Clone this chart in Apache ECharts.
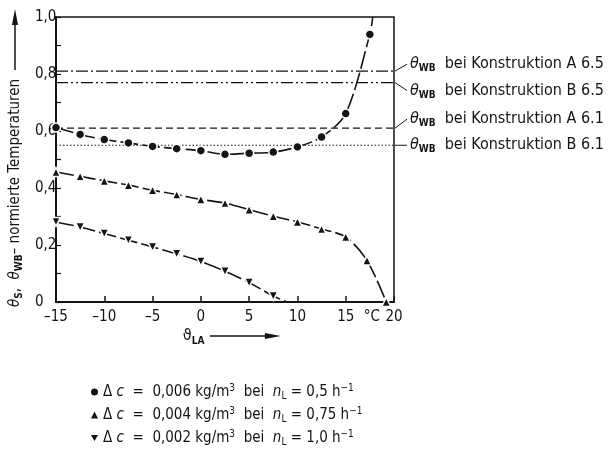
<!DOCTYPE html>
<html>
<head>
<meta charset="utf-8">
<script src="https://cdn.jsdelivr.net/npm/echarts@6/dist/echarts.min.js"></script>
<style>
html,body{margin:0;padding:0;background:#fff;}
#c{width:608px;height:452px;}
</style>
</head>
<body>
<div id="c"></div>
<script>
// ---- data ----
const xTicks = [-15, -10, -5, 0, 5, 10, 15, 20];
const yTicks = [0, 0.2, 0.4, 0.6, 0.8, 1.0];

const circleX = [-15, -12.5, -10, -7.5, -5, -2.5, 0, 2.5, 5, 7.5, 10, 12.5, 15, 17.5];
const circleY = [0.612, 0.588, 0.570, 0.558, 0.546, 0.538, 0.531, 0.518, 0.522, 0.526, 0.544, 0.579, 0.661, 0.939];
const circleTail = [17.8, 1.0];

const upX = [-15, -12.5, -10, -7.5, -5, -2.5, 0, 2.5, 5, 7.5, 10, 12.5, 15, 17.2, 19.2];
const upY = [0.456, 0.441, 0.425, 0.410, 0.392, 0.377, 0.360, 0.347, 0.324, 0.301, 0.281, 0.256, 0.228, 0.146, 0.0];

const downX = [-15, -12.5, -10, -7.5, -5, -2.5, 0, 2.5, 5, 7.5];
const downY = [0.281, 0.263, 0.240, 0.217, 0.193, 0.169, 0.142, 0.108, 0.068, 0.021];
const downTail = [8.9, 0.0];

const refValues = [0.81, 0.77, 0.61, 0.55];
const refNames = ['A 6.5', 'B 6.5', 'A 6.1', 'B 6.1'];

const seriesNames = ['dc006', 'dc004', 'dc002'];
const legendTexts = [
  ['0,006', '0,5'],
  ['0,004', '0,75'],
  ['0,002', '1,0']
];

// ---- styling ----
const FONT = '"DejaVu Sans Condensed", "DejaVu Sans", sans-serif';
const INK = '#141414';
const DOWN_TRI = 'path://M0,0L2,0L1,1.732Z';

function zip(xs, ys) { return xs.map((x, i) => [x, ys[i]]); }
function dec(v) { return v === 0 ? '0' : v.toFixed(1).replace('.', ','); }

const chart = echarts.init(document.getElementById('c'), null, {renderer: 'canvas'});

const dashStyles = [[12, 3, 2, 3], [12, 3, 2, 3, 2, 3], [7, 4], [1.5, 2]];

const refSeries = refValues.map((v, i) => ({
  type: 'line', name: 'ref' + i, silent: true, symbol: 'none', z: 1,
  data: [[xTicks[0], v], [xTicks[xTicks.length - 1], v]],
  lineStyle: {color: INK, width: 1.2, type: dashStyles[i]}
}));

function curve(name, data, symbol) {
  return {
    type: 'line', name: name, data: data, smooth: 0.3,
    symbol: symbol, symbolSize: 9, z: 3,
    itemStyle: {color: INK, borderColor: '#fff', borderWidth: 1.5},
    lineStyle: {color: INK, width: 1.6, type: [18, 4]}
  };
}

const circleData = zip(circleX, circleY).concat([{value: circleTail, symbol: 'none'}]);
const upData = zip(upX, upY);
const downData = zip(downX, downY).concat([{value: downTail, symbol: 'none'}]);

const legendRich = {
  t: {fontFamily: FONT, fontSize: 15, color: INK, lineHeight: 16},
  i: {fontFamily: FONT, fontSize: 15, color: INK, lineHeight: 16, fontStyle: 'italic'},
  sub: {fontFamily: FONT, fontSize: 10, color: INK, lineHeight: 10, padding: [8, 0, 0, 0]},
  sup: {fontFamily: FONT, fontSize: 10, color: INK, lineHeight: 10, padding: [0, 0, 7, 0]}
};

const option = {
  backgroundColor: '#fff',
  animation: false,
  textStyle: {fontFamily: FONT},
  grid: {left: 56, top: 17, width: 338, height: 285, show: true, borderColor: INK, borderWidth: 1.5, backgroundColor: 'transparent'},
  xAxis: {
    type: 'value', min: xTicks[0], max: xTicks[xTicks.length - 1], interval: 5,
    axisLine: {onZero: false, lineStyle: {color: INK, width: 2}},
    axisTick: {inside: true, length: 6, lineStyle: {color: INK, width: 1.5}},
    axisLabel: {margin: 8, color: INK, fontSize: 15, fontFamily: FONT,
      formatter: v => (v < 0 ? '\u2013' + Math.abs(v) : String(v))},
    splitLine: {show: false}
  },
  yAxis: {
    type: 'value', min: yTicks[0], max: yTicks[yTicks.length - 1], interval: 0.2,
    axisLine: {onZero: false, lineStyle: {color: INK, width: 2}},
    axisTick: {inside: true, length: 5, lineStyle: {color: INK, width: 1.2}},
    minorTick: {show: true, splitNumber: 2, length: 5, lineStyle: {color: INK, width: 1.2}},
    axisLabel: {margin: 21, align: 'left', color: INK, fontSize: 15, fontFamily: FONT, formatter: dec},
    splitLine: {show: false}
  },
  legend: {
    orient: 'vertical', left: 91, top: 383, padding: 0, itemWidth: 7, itemHeight: 7, itemGap: 5,
    selectedMode: false,
    data: [
      {name: seriesNames[0], icon: 'circle'},
      {name: seriesNames[1], icon: 'triangle'},
      {name: seriesNames[2], icon: DOWN_TRI}
    ],
    itemStyle: {color: INK, borderWidth: 0},
    textStyle: {rich: legendRich},
    formatter: function (name) {
      const k = seriesNames.indexOf(name);
      const tx = legendTexts[k];
      return '{t|\u0394 }{i|c}{t|  =  ' + tx[0] + ' kg/m}{sup|3}{t|  bei  }{i|n}{sub|L}{t| = ' + tx[1] + ' h}{sup|\u22121}';
    }
  },
  series: refSeries.concat([
    curve(seriesNames[0], circleData, 'circle'),
    curve(seriesNames[1], upData, 'triangle'),
    curve(seriesNames[2], downData, DOWN_TRI)
  ])
};
chart.setOption(option);

// ---- annotations positioned through the chart's own scales ----
const g = [];
const rich = {
  th: {fontFamily: FONT, fontSize: 16, fontStyle: 'italic', fill: INK, lineHeight: 16},
  wb: {fontFamily: FONT, fontSize: 10, fontWeight: 'bold', fill: INK, lineHeight: 10, padding: [9, 0, 0, 0]},
  t: {fontFamily: FONT, fontSize: 16, fill: INK, lineHeight: 16}
};
const yRich = {
  th: {fontFamily: FONT, fontSize: 15, fontStyle: 'italic', fill: INK, lineHeight: 16},
  wb: {fontFamily: FONT, fontSize: 10, fontWeight: 'bold', fill: INK, lineHeight: 10, padding: [9, 0, 0, 0]},
  t: {fontFamily: FONT, fontSize: 15, fill: INK, lineHeight: 16}
};
const labelOffsets = [-7, 8, -9, 0];
refValues.forEach((v, i) => {
  const p = chart.convertToPixel({gridIndex: 0}, [xTicks[xTicks.length - 1], v]);
  const ty = p[1] + labelOffsets[i];
  g.push({type: 'line', shape: {x1: p[0] + 1, y1: p[1], x2: p[0] + 13, y2: ty}, style: {stroke: INK, lineWidth: 1}});
  g.push({type: 'text', x: p[0] + 16, y: ty,
    style: {text: '{th|\u03B8}{wb|WB}{t|  bei Konstruktion ' + refNames[i] + '}', rich: rich, verticalAlign: 'middle', align: 'left'}});
});

// °C unit label on x axis
const pc = chart.convertToPixel({gridIndex: 0}, [17.7, 0]);
g.push({type: 'text', x: pc[0], y: pc[1] + 8,
  style: {text: '\u00B0C', fontFamily: FONT, fontSize: 15, fill: INK, align: 'center', verticalAlign: 'top'}});

// x axis name with arrow
const p0 = chart.convertToPixel({gridIndex: 0}, [0, 0]);
const axY = p0[1] + 34;
g.push({type: 'text', x: p0[0] - 18, y: axY,
  style: {text: '{v|\u03D1}{s|LA}', rich: {
    v: {fontFamily: FONT, fontSize: 16, fill: INK, lineHeight: 18},
    s: {fontFamily: FONT, fontSize: 10, fontWeight: 'bold', fill: INK, lineHeight: 10, padding: [10, 0, 0, 0]}
  }, verticalAlign: 'middle', align: 'left'}});
g.push({type: 'line', shape: {x1: p0[0] + 9, y1: axY, x2: p0[0] + 68, y2: axY}, style: {stroke: INK, lineWidth: 1.5}});
g.push({type: 'polygon', shape: {points: [[p0[0] + 80, axY], [p0[0] + 64, axY - 3], [p0[0] + 64, axY + 3]]}, style: {fill: INK}});

// y axis name with arrow (rotated)
g.push({type: 'text', x: 15, y: 193, rotation: Math.PI / 2,
  style: {text: '{th|\u03B8}{wb|S}{t|,  }{th|\u03B8}{wb|WB}{t|\u2013 normierte Temperaturen}', rich: yRich, align: 'center', verticalAlign: 'middle'}});
g.push({type: 'line', shape: {x1: 15, y1: 70, x2: 15, y2: 22}, style: {stroke: INK, lineWidth: 1.5}});
g.push({type: 'polygon', shape: {points: [[15, 9], [12, 25], [18, 25]]}, style: {fill: INK}});

chart.setOption({graphic: g});
</script>
</body>
</html>
